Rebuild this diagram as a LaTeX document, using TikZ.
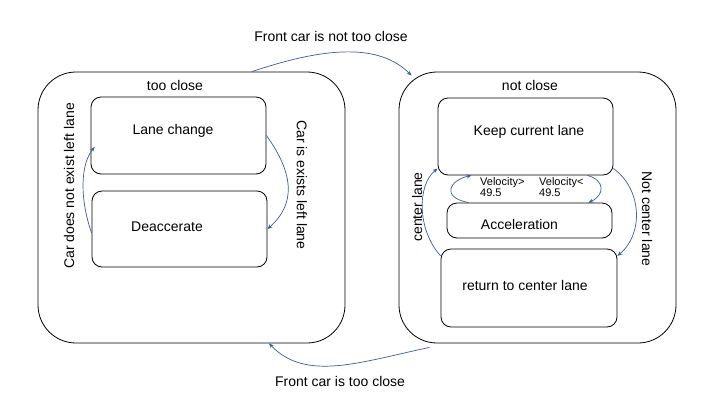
\documentclass[tikz,border=0pt]{standalone}
\usepackage{fontspec}
\setmainfont{Liberation Sans}
\usetikzlibrary{arrows.meta,positioning}

\definecolor{linkblue}{RGB}{58,92,160}

\begin{document}
\begin{tikzpicture}[
  x=1pt, y=-1pt,
  font=\fontsize{14}{16}\selectfont,
  state/.style={draw, rounded corners=38pt, line width=0.8pt},
  box/.style={draw, rounded corners=10pt, line width=0.8pt, inner sep=0pt},
  arrow/.style={-{Stealth[length=5pt,width=4pt]}, linkblue, line width=0.7pt},
  velo/.style={font=\fontsize{11}{11}\selectfont, align=left, inner sep=0pt, anchor=north west}
]
\useasboundingbox (0,0) rectangle (720,405);

% outer states
\node[state, minimum width=307pt, minimum height=271pt] (near) at (191.5,207.5) {};
\node[state, minimum width=277pt, minimum height=271pt] (far) at (537.5,207.5) {};
\node (nearlbl) at (175,85) {too close};
\node (farlbl) at (530,85) {not close};

% too close
\node[box, minimum width=175pt, minimum height=77pt,
      label={[xshift=-5.5pt,yshift=4.5pt]center:Lane change}] (lane) at (178.5,135.5) {};
\node[box, minimum width=175pt, minimum height=76pt,
      label={[xshift=-12.5pt,yshift=2pt]center:Deaccerate}] (deac) at (179.5,229) {};
\node[rotate=90] (noleft) at (69,186) {Car does not exist left lane};
\node[rotate=-90] (isleft) at (302,185) {Car is exists left lane};

% not close
\node[box, minimum width=175pt, minimum height=77pt,
      label={[xshift=3.5pt,yshift=4.5pt]center:Keep current lane}] (keep) at (525.5,136.5) {};
\node[box, minimum width=165pt, minimum height=35pt,
      label={[xshift=-10pt,yshift=-3.5pt]center:Acceleration}] (accel) at (529.5,220.5) {};
\node[box, minimum width=176pt, minimum height=78pt,
      label={[xshift=-4pt,yshift=3pt]center:return to center lane}] (ret) at (529,288) {};
\node[rotate=90] (center) at (417,207) {center lane};
\node[rotate=-90] (notcenter) at (647,219) {Not center lane};
\node[velo] (fast) at (480,177) {Velocity>\\49.5};
\node[velo] (slow) at (539,177) {Velocity<\\49.5};

% between states
\node (notnear) at (331,36) {Front car is not too close};
\node (isnear) at (340,381) {Front car is too close};

\draw[arrow] (lane.east) .. controls (295,175) and (295,205) .. (deac.east);
\draw[arrow] ([yshift=-4pt]deac.west) .. controls (80,200) and (80,165) .. ([xshift=4pt,yshift=-11.5pt]lane.west);
\draw[arrow] (keep.-20) .. controls (643,190) and (643,235) .. (ret.20);
\draw[arrow] (ret.160) .. controls (417,230) and (417,185) .. (keep.200);
\draw[arrow] ([xshift=22pt]accel.north west) .. controls (440,197) and (450,180) .. ([xshift=34pt]keep.south west);
\draw[arrow] ([xshift=-26pt]keep.south east) .. controls (605,180) and (605,195) .. ([xshift=-24pt]accel.north east);
\draw[arrow] ([xshift=60.5pt]near.north) .. controls (325,47) and (379,43) .. ([xshift=13pt,yshift=-4pt]far.north west);
\draw[arrow] ([xshift=31pt,yshift=-4pt]far.south west) .. controls (360,362) and (306,382) .. ([xshift=77.5pt]near.south);
\end{tikzpicture}
\end{document}
